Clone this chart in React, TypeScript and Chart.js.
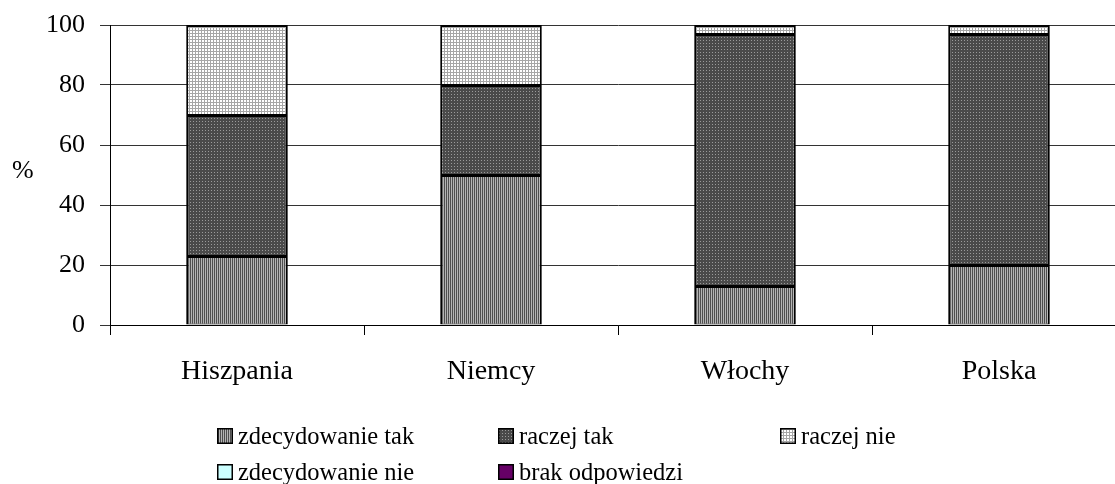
import React, { useEffect, useRef } from "react";
import { Chart, registerables } from "chart.js";

Chart.register(...registerables);

const categories = ["Hiszpania", "Niemcy", "Włochy", "Polska"];
const zdecydowanieTak = [23, 50, 13, 20];
const raczejTak = [47, 30, 84, 77];
const raczejNie = [30, 20, 3, 3];
const zdecydowanieNie = [0, 0, 0, 0];
const brakOdpowiedzi = [0, 0, 0, 0];
const yTicks = [0, 20, 40, 60, 80, 100];

const FONT = "'Liberation Serif', 'Times New Roman', serif";
const BORDER = { left: 2, right: 2, top: 2, bottom: 1 };

function makePattern(kind: string): CanvasPattern | string {
  const c = document.createElement("canvas");
  const ctx = c.getContext("2d")!;
  if (kind === "stripes") {
    c.width = 2; c.height = 1;
    ctx.fillStyle = "#4e4e4e"; ctx.fillRect(0, 0, 1, 1);
    ctx.fillStyle = "#b4b4b4"; ctx.fillRect(1, 0, 1, 1);
  } else if (kind === "dots") {
    c.width = 3; c.height = 3;
    ctx.fillStyle = "#4a4a4a"; ctx.fillRect(0, 0, 3, 3);
    ctx.fillStyle = "#9a9a9a"; ctx.fillRect(1, 1, 1, 1);
  } else {
    c.width = 3; c.height = 3;
    ctx.fillStyle = "#ffffff"; ctx.fillRect(0, 0, 3, 3);
    ctx.fillStyle = "#a6a6a6"; ctx.fillRect(0, 0, 3, 1); ctx.fillRect(0, 0, 1, 3);
  }
  return ctx.createPattern(c, "repeat")!;
}

const legendPlugin = {
  id: "gridLegend",
  afterDraw(chart: any) {
    const ctx = chart.ctx as CanvasRenderingContext2D;
    const cols = [217, 498, 780];
    const rows = [428, 464];
    ctx.save();
    ctx.font = `26px ${FONT}`;
    ctx.fillStyle = "#000";
    ctx.textBaseline = "alphabetic";
    ctx.textAlign = "left";
    ctx.fillText("%", 12, 178);
    ctx.font = `24.5px ${FONT}`;
    chart.data.datasets.forEach((ds: any, i: number) => {
      const x = cols[i % 3];
      const y = rows[Math.floor(i / 3)];
      ctx.fillStyle = ds.backgroundColor;
      ctx.fillRect(x, y, 16, 16);
      ctx.strokeStyle = "#000";
      ctx.lineWidth = 1.5;
      ctx.strokeRect(x + 0.75, y + 0.75, 14.5, 14.5);
      ctx.fillStyle = "#000";
      ctx.fillText(ds.label, x + 21, y + 16);
    });
    ctx.restore();
  },
};

export default function App() {
  const ref = useRef<HTMLCanvasElement>(null);
  useEffect(() => {
    let chart: Chart | null = null;
    let cancelled = false;
    const build = () => {
      if (cancelled || !ref.current) return;
      chart = new Chart(ref.current, {
        type: "bar",
        data: {
          labels: categories,
          datasets: [
            { label: "zdecydowanie tak", data: zdecydowanieTak, backgroundColor: makePattern("stripes") as any, borderColor: "#000", borderWidth: BORDER },
            { label: "raczej tak", data: raczejTak, backgroundColor: makePattern("dots") as any, borderColor: "#000", borderWidth: BORDER },
            { label: "raczej nie", data: raczejNie, backgroundColor: makePattern("grid") as any, borderColor: "#000", borderWidth: BORDER },
            { label: "zdecydowanie nie", data: zdecydowanieNie, backgroundColor: "#ccffff", borderColor: "#000", borderWidth: 0 },
            { label: "brak odpowiedzi", data: brakOdpowiedzi, backgroundColor: "#660066", borderColor: "#000", borderWidth: 0 },
          ],
        },
        options: {
          responsive: false,
          animation: false,
          devicePixelRatio: 1,
          layout: { padding: { left: 0, right: 14, top: 25, bottom: 0 } },
          plugins: { legend: { display: false }, tooltip: { enabled: false } },
          datasets: { bar: { barPercentage: 0.4, categoryPercentage: 1, borderSkipped: false } },
          scales: {
            x: {
              stacked: true,
              grid: { display: true, drawOnChartArea: false, drawTicks: true, tickLength: 10, color: "#000", offset: true },
              border: { display: true, color: "#000", width: 1 },
              ticks: { color: "#000", font: { family: FONT, size: 28 }, padding: 20, maxRotation: 0 },
              afterFit: (s: any) => { s.height = 159; s.paddingLeft = 0; s.paddingRight = 0; },
            },
            y: {
              stacked: true,
              min: 0,
              max: 100,
              afterBuildTicks: (s: any) => { s.ticks = yTicks.map((v) => ({ value: v })); },
              grid: { color: "#333", lineWidth: 1, tickLength: 10, drawTicks: true },
              border: { display: true, color: "#000", width: 1 },
              ticks: { color: "#000", font: { family: FONT, size: 26 }, padding: 15 },
              afterFit: (s: any) => { s.width = 110; s.paddingTop = 0; s.paddingBottom = 0; },
            },
          },
        },
        plugins: [legendPlugin],
      });
    };
    const fonts: any = (document as any).fonts;
    if (fonts && fonts.load) {
      Promise.all([
        fonts.load(`26px "Liberation Serif"`, "Hiszpania 100%"),
        fonts.load(`25px "Liberation Serif"`, "zdecydowanie"),
      ]).then(build, build);
    } else {
      build();
    }
    return () => {
      cancelled = true;
      if (chart) chart.destroy();
    };
  }, []);
  return (
    <div style={{ position: "absolute", left: 0, top: 0, width: 1115, height: 484, overflow: "hidden", background: "#fff" }}>
      <canvas ref={ref} width={1140} height={484} style={{ display: "block" }} />
    </div>
  );
}
